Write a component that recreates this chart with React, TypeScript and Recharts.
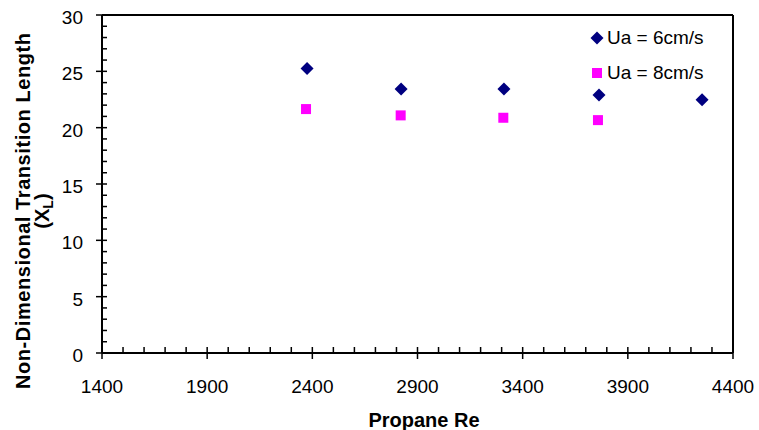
import {
  ScatterChart,
  Scatter,
  XAxis,
  YAxis,
  Legend,
  ReferenceLine,
} from "recharts";

const FONT = '"Liberation Sans", Arial, sans-serif';

const RE_6 = [2375, 2822, 3311, 3763, 4253];
const XL_6 = [25.26, 23.43, 23.43, 22.89, 22.48];
const RE_8 = [2370, 2820, 3308, 3758];
const XL_8 = [21.65, 21.09, 20.88, 20.67];

const X_MAJOR = [1400, 1900, 2400, 2900, 3400, 3900, 4400];
const Y_MAJOR = [0, 5, 10, 15, 20, 25, 30];
// minor ticks every 100 on x and every 1 on y
const X_TICKS = Array.from({ length: 31 }, (_, i) => 1400 + i * 100);
const Y_TICKS = Array.from({ length: 31 }, (_, i) => i);

const ua6 = RE_6.map((re, i) => ({ re, xl: XL_6[i] }));
const ua8 = RE_8.map((re, i) => ({ re, xl: XL_8[i] }));

const NAVY = "#000080";
const MAGENTA = "#FF00FF";

const Diamond = ({ cx, cy, fill }: any) => (
  <polygon
    points={`${cx},${cy - 6.5} ${cx + 6.5},${cy} ${cx},${cy + 6.5} ${cx - 6.5},${cy}`}
    fill={fill}
  />
);

const Square = ({ cx, cy, fill }: any) => (
  <rect x={cx - 5} y={cy - 5} width={10} height={10} fill={fill} />
);

const XTick = ({ x, y, payload }: any) => {
  const major = X_MAJOR.includes(payload.value);
  return (
    <g>
      <line
        x1={x}
        x2={x}
        y1={y - 6}
        y2={major ? y + 6 : y}
        stroke="#000"
        strokeWidth={1.5}
      />
      {major && (
        <text x={x} y={y + 40} textAnchor="middle" fontSize={19} fill="#000" fontFamily={FONT}>
          {payload.value}
        </text>
      )}
    </g>
  );
};

const YTick = ({ x, y, payload }: any) => {
  const major = Y_MAJOR.includes(payload.value);
  return (
    <g>
      <line
        x1={major ? x - 6 : x}
        x2={x + 5}
        y1={y}
        y2={y}
        stroke="#000"
        strokeWidth={1.5}
      />
      {major && (
        <text x={x - 19} y={y + 9} textAnchor="end" fontSize={19} fill="#000" fontFamily={FONT}>
          {payload.value}
        </text>
      )}
    </g>
  );
};

const renderLegend = ({ payload }: any) => (
  <div style={{ fontFamily: FONT, fontSize: 19, color: "#000" }}>
    {(payload || []).map((entry: any) => (
      <div
        key={entry.value}
        style={{ display: "flex", alignItems: "center", height: 35 }}
      >
        <svg width={14} height={14} style={{ marginRight: 3 }}>
          {entry.type === "diamond" ? (
            <Diamond cx={7} cy={7} fill={entry.color} />
          ) : (
            <Square cx={7} cy={7} fill={entry.color} />
          )}
        </svg>
        <span>{entry.value}</span>
      </div>
    ))}
  </div>
);

export default function App() {
  return (
    <div style={{ position: "absolute", left: 0, top: 0, background: "#fff" }}>
      <ScatterChart
        width={759}
        height={430}
        margin={{ top: 15, right: 26, bottom: 0, left: 0 }}
        style={{ fontFamily: FONT }}
      >
        <XAxis
          type="number"
          dataKey="re"
          domain={[1400, 4400]}
          ticks={X_TICKS}
          interval={0}
          height={77}
          tickSize={0}
          tickMargin={0}
          tickLine={false}
          tick={<XTick />}
          axisLine={{ stroke: "#000", strokeWidth: 2 }}
          allowDataOverflow
        />
        <YAxis
          type="number"
          dataKey="xl"
          domain={[0, 30]}
          ticks={Y_TICKS}
          interval={0}
          width={102}
          tickSize={0}
          tickMargin={0}
          tickLine={false}
          tick={<YTick />}
          axisLine={{ stroke: "#000", strokeWidth: 2 }}
          allowDataOverflow
        />
        <ReferenceLine y={30} stroke="#000" strokeWidth={2} />
        <ReferenceLine x={4400} stroke="#000" strokeWidth={2} />
        <Legend
          layout="horizontal"
          align="center"
          verticalAlign="middle"
          wrapperStyle={{ top: 20, left: 590, width: 150 }}
          content={renderLegend}
        />
        <Scatter
          name="Ua = 6cm/s"
          data={ua6}
          fill={NAVY}
          legendType="diamond"
          shape={<Diamond />}
          isAnimationActive={false}
        />
        <Scatter
          name="Ua = 8cm/s"
          data={ua8}
          fill={MAGENTA}
          legendType="square"
          shape={<Square />}
          isAnimationActive={false}
        />
        <text x={424} y={427} textAnchor="middle" fontSize={20} fontWeight="bold" fontFamily={FONT} fill="#000">
          Propane Re
        </text>
        <g fontFamily={FONT} fontWeight="bold" fontSize={20} fill="#000">
          <text
            x={30}
            y={211}
            textAnchor="middle"
            transform="rotate(-90, 30, 211)"
            textLength={356}
            lengthAdjust="spacing"
          >
            Non-Dimensional Transition Length
          </text>
          <text x={49} y={211} textAnchor="middle" transform="rotate(-90, 49, 211)">
            (X
            <tspan fontSize={14} dy={4}>L</tspan>
            <tspan dy={-4}>)</tspan>
          </text>
        </g>
      </ScatterChart>
    </div>
  );
}
